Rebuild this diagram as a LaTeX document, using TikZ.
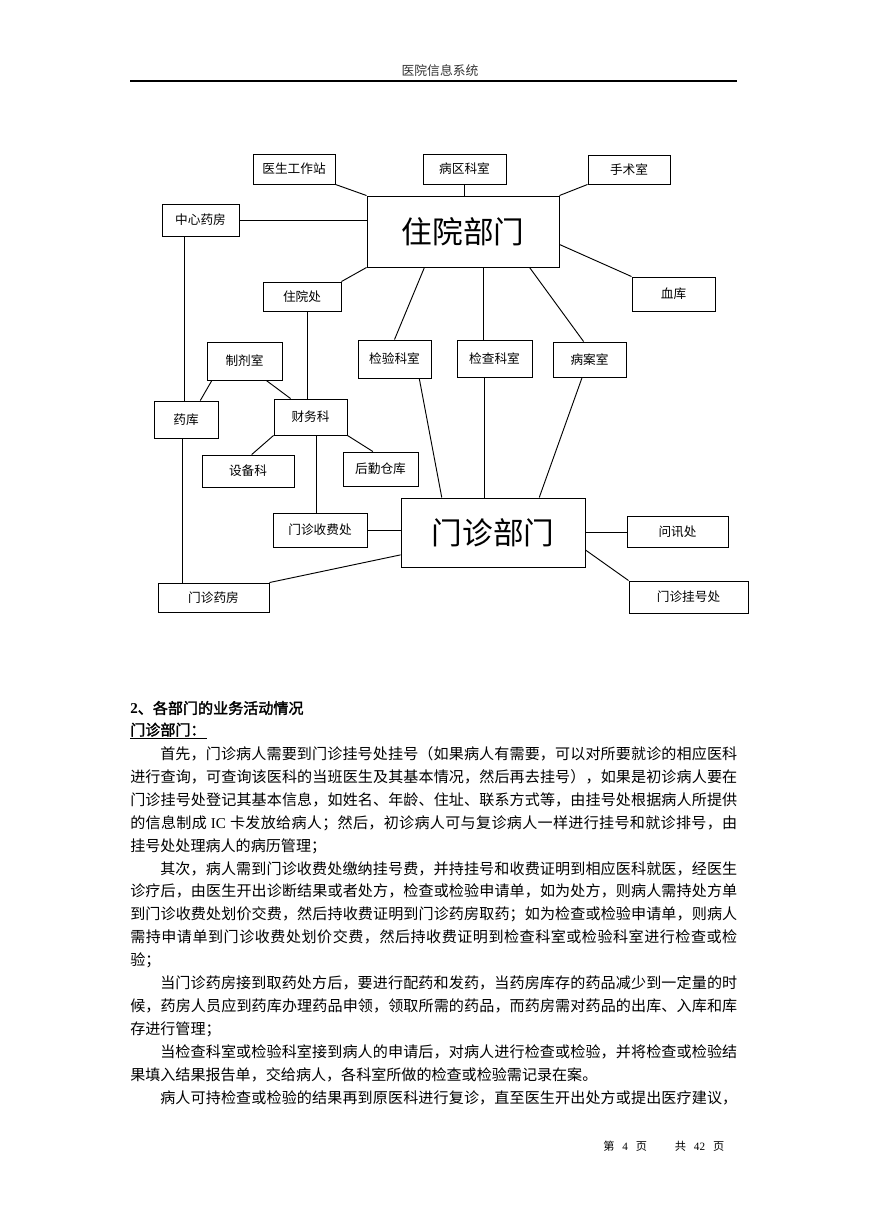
\documentclass[tikz,border=0pt]{standalone}
\usepackage{fontspec}
\setmainfont{Noto Sans CJK SC}
\newfontfamily\latinfont{Liberation Serif}
\newfontfamily\boldcjk[FakeBold=2]{Noto Sans CJK SC}
\usetikzlibrary{calc}

% spread the characters of one line over a given width
\def\spreadstop{spreadstop}
\def\spreadfirst#1{#1\spreadnext}
\def\spreadnext#1{\ifx\spreadstop#1\else\hfil#1\expandafter\spreadnext\fi}
\newcommand\fullline[2]{\hbox to #1{\spreadfirst#2\spreadstop}}
\newcommand\ICcard{{\latinfont\ IC\ }}

\begin{document}
\begin{tikzpicture}[x=0.75pt,y=-0.75pt,
    dept/.style 2 args={draw, line width=0.7pt, inner sep=0pt,
        minimum width=#1*0.75pt, minimum height=#2*0.75pt,
        font=\fontsize{9.5}{11}\selectfont},
    hall/.style 2 args={dept={#1}{#2}, font=\fontsize{23}{27}\selectfont},
    link/.style={line width=0.7pt},
    bodyline/.style={anchor=west, inner sep=0pt, font=\fontsize{11.3}{13}\selectfont},
    headtext/.style={inner sep=0pt, font=\fontsize{9.6}{11}\selectfont, text=black!80}]

\useasboundingbox (0,0) rectangle (869,1228);
\fill[white] (0,0) rectangle (869,1228);

% Header
\node[headtext] (head) at (440,71) {医院信息系统};
\draw[line width=0.8pt] (130,81) -- (737,81);

% Inpatient side
\node[hall={192}{71}] (inpatient) at (463,231.5) {住院部门};
\node[dept={82}{30}] (doctor) at (294,169) {医生工作站};
\node[dept={83}{30}] (ward) at (464.5,169) {病区科室};
\node[dept={82}{29}] (surgery) at (629,169.5) {手术室};
\node[dept={77}{32}] (centralpharm) at (200.5,220) {中心药房};
\node[dept={78}{29}] (admission) at (302,296.5) {住院处};
\node[dept={83}{34}] (bloodbank) at (673.5,294) {血库};

% Middle row
\node[dept={73}{38}] (lab) at (394.5,359) {检验科室};
\node[dept={75}{37}] (exam) at (494.5,358.5) {检查科室};
\node[dept={73}{35}] (records) at (589.5,359.5) {病案室};
\node[dept={75}{38}] (prep) at (244.5,361) {制剂室};
\node[dept={64}{37}] (drugstore) at (186,419.5) {药库};
\node[dept={73}{36}] (finance) at (310.5,417) {财务科};
\node[dept={92}{32}] (equipment) at (248,471) {设备科};
\node[dept={75}{34}] (logistics) at (380.5,469) {后勤仓库};

% Outpatient side
\node[hall={184}{69}] (outpatient) at (493,532.5) {门诊部门};
\node[dept={94}{34}] (cashier) at (320,530) {门诊收费处};
\node[dept={111}{29}] (outpharm) at (213.5,597.5) {门诊药房};
\node[dept={101}{31}] (info) at (677.5,531.5) {问讯处};
\node[dept={119}{32}] (registration) at (688.5,597) {门诊挂号处};

% Links of the inpatient department
\draw[link] (doctor.south east) -- (inpatient.north west);
\draw[link] (ward.south) -- (ward.south |- inpatient.north);
\draw[link] (surgery.south west) -- (inpatient.north east);
\draw[link] (centralpharm.east) -- (centralpharm.east -| inpatient.west);
\draw[link] ($(inpatient.north east)!0.68!(inpatient.south east)$) -- (bloodbank.north west);
\draw[link] (admission.north east) -- (inpatient.south west);
\draw[link] ($(inpatient.south west)!0.3!(inpatient.south east)$) -- (lab.north);
\coordinate (examtop) at ($(exam.north west)!0.35!(exam.north east)$);
\draw[link] (examtop) -- (examtop |- inpatient.south);
\draw[link] ($(inpatient.south west)!0.845!(inpatient.south east)$)
    -- ($(records.north west)!0.42!(records.north east)$);

% Links of the stores and offices
\coordinate (storetop) at ($(drugstore.north west)!0.47!(drugstore.north east)$);
\draw[link] (storetop) -- (storetop |- centralpharm.south);
\coordinate (storebot) at ($(drugstore.south west)!0.44!(drugstore.south east)$);
\draw[link] (storebot) -- (storebot |- outpharm.north);
\draw[link] ($(prep.south west)!0.07!(prep.south east)$)
    -- ($(drugstore.north west)!0.72!(drugstore.north east)$);
\draw[link] ($(prep.south west)!0.787!(prep.south east)$)
    -- ($(finance.north west)!0.23!(finance.north east)$);
\coordinate (admbot) at ($(admission.south west)!0.564!(admission.south east)$);
\draw[link] (admbot) -- (admbot |- finance.north);
\draw[link] (finance.south west) -- ($(equipment.north west)!0.54!(equipment.north east)$);
\draw[link] (finance.south east) -- ($(logistics.north west)!0.4!(logistics.north east)$);
\coordinate (finbot) at ($(finance.south west)!0.575!(finance.south east)$);
\draw[link] (finbot) -- (finbot |- cashier.north);

% Links of the outpatient department
\draw[link] (cashier.east) -- (cashier.east -| outpatient.west);
\draw[link] ($(outpatient.north west)!0.82!(outpatient.south west)$) -- (outpharm.north east);
\draw[link] ($(lab.south west)!0.835!(lab.south east)$)
    -- ($(outpatient.north west)!0.223!(outpatient.north east)$);
\coordinate (exambot) at ($(exam.south west)!0.37!(exam.south east)$);
\draw[link] (exambot) -- (exambot |- outpatient.north);
\draw[link] ($(records.south west)!0.4!(records.south east)$)
    -- ($(outpatient.north west)!0.75!(outpatient.north east)$);
\draw[link] (outpatient.east) -- (outpatient.east -| info.west);
\draw[link] ($(outpatient.north east)!0.75!(outpatient.south east)$) -- (registration.north west);

% Text of the page
\node[bodyline] (title) at (130,708) {{\latinfont\bfseries 2}{\boldcjk 、各部门的业务活动情况}};
\node[bodyline] (subtitle) at (130,731) {\underline{\boldcjk 门诊部门：\hspace{0.1em}}};

\node[bodyline] (pa1) at (160,754) {\fullline{432.75pt}{首先，门诊病人需要到门诊挂号处挂号（如果病人有需要，可以对所要就诊的相应医科}};
\node[bodyline] (pa2) at (130,777) {\fullline{455.25pt}{进行查询，可查询该医科的当班医生及其基本情况，然后再去挂号），如果是初诊病人要在}};
\node[bodyline] (pa3) at (130,800) {\fullline{455.25pt}{门诊挂号处登记其基本信息，如姓名、年龄、住址、联系方式等，由挂号处根据病人所提供}};
\node[bodyline] (pa4) at (130,823) {\fullline{455.25pt}{的信息制成\ICcard 卡发放给病人；然后，初诊病人可与复诊病人一样进行挂号和就诊排号，由}};
\node[bodyline] (pa5) at (130,846) {挂号处处理病人的病历管理；};

\node[bodyline] (pb1) at (160,869) {\fullline{432.75pt}{其次，病人需到门诊收费处缴纳挂号费，并持挂号和收费证明到相应医科就医，经医生}};
\node[bodyline] (pb2) at (130,891) {\fullline{455.25pt}{诊疗后，由医生开出诊断结果或者处方，检查或检验申请单，如为处方，则病人需持处方单}};
\node[bodyline] (pb3) at (130,914) {\fullline{455.25pt}{到门诊收费处划价交费，然后持收费证明到门诊药房取药；如为检查或检验申请单，则病人}};
\node[bodyline] (pb4) at (130,937) {\fullline{455.25pt}{需持申请单到门诊收费处划价交费，然后持收费证明到检查科室或检验科室进行检查或检}};
\node[bodyline] (pb5) at (130,960) {验；};

\node[bodyline] (pc1) at (160,983) {\fullline{432.75pt}{当门诊药房接到取药处方后，要进行配药和发药，当药房库存的药品减少到一定量的时}};
\node[bodyline] (pc2) at (130,1006) {\fullline{455.25pt}{候，药房人员应到药库办理药品申领，领取所需的药品，而药房需对药品的出库、入库和库}};
\node[bodyline] (pc3) at (130,1029) {存进行管理；};

\node[bodyline] (pd1) at (160,1052) {\fullline{432.75pt}{当检查科室或检验科室接到病人的申请后，对病人进行检查或检验，并将检查或检验结}};
\node[bodyline] (pd2) at (130,1075) {果填入结果报告单，交给病人，各科室所做的检查或检验需记录在案。};

\node[bodyline] (pe1) at (160,1098) {\fullline{432.75pt}{病人可持检查或检验的结果再到原医科进行复诊，直至医生开出处方或提出医疗建议，}};

% Footer
\node[bodyline, font=\fontsize{8.4}{10}\selectfont] (foot) at (603,1146)
    {第\hspace{0.7em}{\latinfont 4}\hspace{0.7em}页\hspace{2.5em}共\hspace{0.7em}{\latinfont 42}\hspace{0.7em}页};

\end{tikzpicture}
\end{document}
